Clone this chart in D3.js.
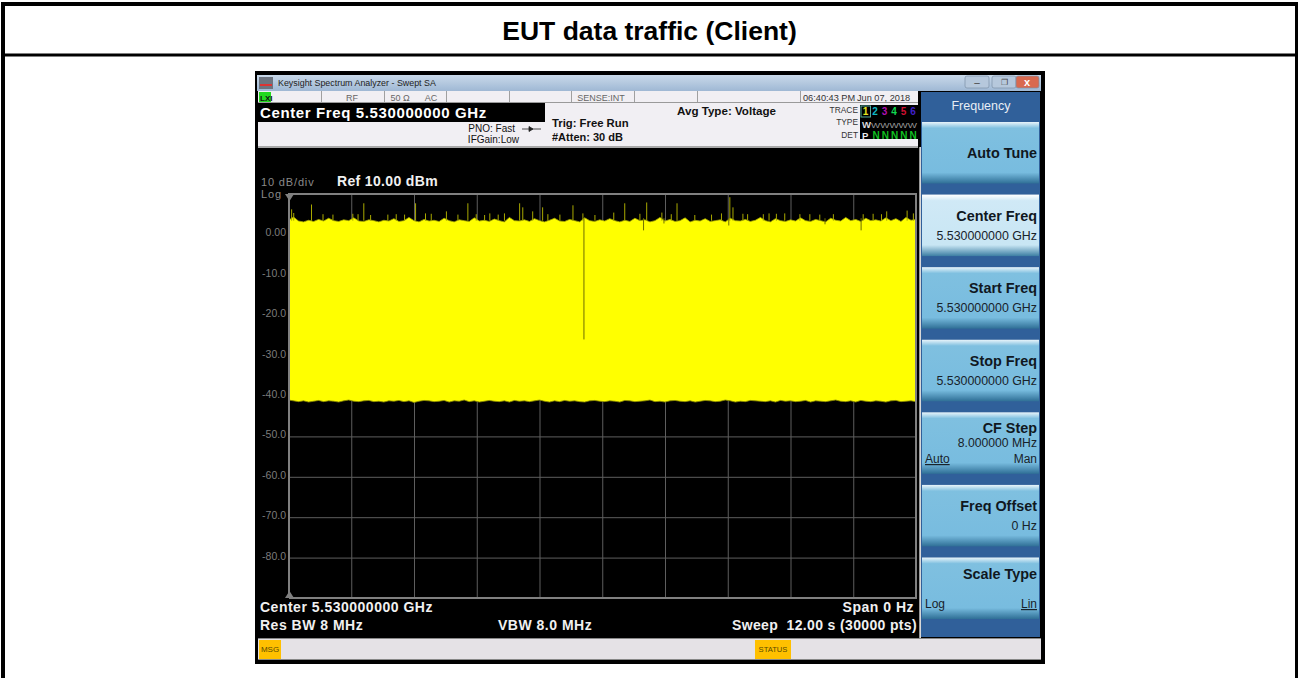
<!DOCTYPE html>
<html>
<head>
<meta charset="utf-8">
<script src="https://cdn.jsdelivr.net/npm/d3@7/dist/d3.min.js"></script>
<style>
  html, body { margin: 0; padding: 0; background: #fff; overflow: hidden; }
  text { font-family: "Liberation Sans", Arial, sans-serif; white-space: pre; }
</style>
</head>
<body>
<div id="chart"></div>
<script>
// Trace values (dBm), evenly spread across the 12 s sweep
const traceTop = [
  3.5,4.3,3.3,3.1,3.5,3.2,3.7,3.3,4.0,3.4,3.2,3.6,3.4,4.1,3.3,3.2,3.6,3.4,3.1,3.5,
  3.3,3.9,3.2,3.4,4.2,3.4,3.1,3.7,3.3,3.5,3.2,4.0,3.4,3.1,3.6,3.4,3.2,4.1,3.3,3.5,
  3.2,3.8,3.4,3.1,4.2,3.4,3.3,3.6,3.2,3.9,3.4,3.1,3.5,4.0,3.3,3.2,3.7,3.4,3.1,4.1,
  3.4,3.2,3.6,3.3,3.9,3.4,3.1,3.5,3.2,4.0,3.4,3.6,3.1,3.4,4.2,3.3,3.7,3.2,3.4,4.1,
  3.1,3.5,3.3,3.9,3.2,3.4,3.6,3.1,4.0,3.4,3.3,3.7,3.2,3.5,4.2,3.4,3.1,3.9,3.4,3.2,
  3.6,3.3,4.1,3.4,3.2,3.7,3.4,3.1,4.0,3.5,3.3,4.2,3.4,3.7,3.2,4.0,3.4,3.6,3.3,4.1,
  3.4,3.9,3.2,4.2,3.5,3.7
];
const traceBottom = [
  -41.0,-41.2,-41.4,-41.2,-41.5,-41.3,-41.1,-41.4,-41.2,-41.3,-41.5,-41.2,-41.0,-41.3,-41.4,-41.2,-41.1,-41.4,-41.3,-41.5,
  -41.2,-41.3,-41.1,-41.4,-41.2,-41.6,-41.3,-41.1,-41.2,-41.4,-41.3,-41.1,-41.5,-41.2,-41.3,-41.0,-41.4,-41.2,-41.5,-41.3,
  -41.1,-41.3,-41.4,-41.2,-41.5,-41.1,-41.3,-41.2,-41.4,-41.2,-41.0,-41.3,-41.5,-41.2,-41.4,-41.1,-41.3,-41.2,-41.4,-41.5,
  -41.2,-41.1,-41.3,-41.4,-41.2,-41.3,-41.5,-41.1,-41.2,-41.4,-41.3,-41.2,-41.0,-41.4,-41.3,-41.5,-41.2,-41.1,-41.3,-41.4,
  -41.2,-41.5,-41.3,-41.1,-41.2,-41.4,-41.3,-41.0,-41.2,-41.5,-41.3,-41.4,-41.1,-41.2,-41.3,-41.4,-41.2,-41.5,-41.1,-41.3,
  -41.2,-41.4,-41.3,-41.1,-41.5,-41.2,-41.3,-41.4,-41.2,-41.0,-41.3,-41.4,-41.2,-41.5,-41.1,-41.3,-41.4,-41.2,-41.3,-41.5,
  -41.2,-41.1,-41.4,-41.3,-41.2,-41.4
];
// Upward spikes [seconds, dBm]
const spikes = [
  [0.06,6.2],[0.10,5.3],[0.44,7.4],[1.44,7.7],[2.43,7.7],[2.62,5.2],[3.02,5.7],[3.43,7.7],[3.85,5.2],[4.13,5.2],
  [4.42,7.7],[4.48,6.7],[4.67,5.7],[4.86,6.7],[5.44,7.2],[5.63,5.2],[6.22,5.4],[6.43,7.7],[6.85,7.9],[7.14,5.4],
  [7.43,7.7],[8.44,9.2],[8.50,6.7],[8.78,5.0],[9.19,5.2],[9.49,5.2],[9.97,5.0],[11.44,5.7],[11.83,5.9]
];
// Smaller teeth along the top edge [seconds, dBm]
const teeth = [
  [0.66,5.0],[0.85,4.9],[1.23,5.1],[1.33,5.0],[1.57,4.8],[1.90,4.9],[2.06,5.0],[2.22,4.9],[2.73,5.1],[3.24,4.9],
  [3.59,5.0],[3.75,4.8],[4.01,4.9],[4.96,5.0],[5.19,4.9],[5.86,4.8],[6.72,5.1],[7.32,5.0],[7.77,4.8],[8.09,4.9],
  [8.28,5.2],[8.69,5.1],[9.08,5.0],[9.33,5.1],[9.78,5.0],[10.16,4.9],[10.42,5.0],[10.99,5.0],[11.18,5.1],[11.34,5.0],
  [11.95,5.2]
];
// Downward dips [seconds, dBm]
const dips = [[5.65,-26],[6.79,1.0],[7.18,2.7],[8.42,2.2],[10.26,2.5],[10.95,1.0]];

const dbTicks = [0,-10,-20,-30,-40,-50,-60,-70,-80];
const timeTicks = [1.2,2.4,3.6,4.8,6,7.2,8.4,9.6,10.8];
const softKeys = [
  { title: "Auto Tune", sub: "" },
  { title: "Center Freq", sub: "5.530000000 GHz", active: true },
  { title: "Start Freq", sub: "5.530000000 GHz" },
  { title: "Stop Freq", sub: "5.530000000 GHz" },
  { title: "CF Step", sub: "8.000000 MHz" },
  { title: "Freq Offset", sub: "0 Hz" },
  { title: "Scale Type", sub: "" }
];

const svg = d3.select("#chart").append("svg")
  .attr("width", 1298).attr("height", 678)
  .style("display", "block");

const defs = svg.append("defs");
function gradient(id, stops) {
  const g = defs.append("linearGradient").attr("id", id)
    .attr("x1", 0).attr("x2", 0).attr("y1", 0).attr("y2", 1);
  stops.forEach(s => g.append("stop").attr("offset", s[0]).attr("stop-color", s[1]));
}
gradient("titleBar", [[0, "#c9d9ea"], [1, "#9fb8d4"]]);
gradient("keyNormal", [[0, "#e8f4fa"], [0.1, "#7fc0e0"], [0.82, "#78bcdf"], [1, "#2f6f96"]]);
gradient("keyActive", [[0, "#ffffff"], [0.1, "#d0e9f6"], [0.82, "#c8e6f4"], [1, "#3d7fa3"]]);

function label(x, y, str, size, opts = {}) {
  return svg.append("text")
    .attr("x", x).attr("y", y)
    .attr("text-anchor", opts.anchor || "start")
    .attr("font-size", size)
    .attr("font-weight", opts.bold ? "bold" : "normal")
    .attr("fill", opts.fill || "#000")
    .attr("letter-spacing", opts.spacing || null)
    .attr("text-decoration", opts.under ? "underline" : null)
    .text(str);
}
function box(x, y, w, h, fill) {
  return svg.append("rect").attr("x", x).attr("y", y).attr("width", w).attr("height", h).attr("fill", fill);
}

// Report table around the screenshot
box(1, 2, 4, 676, "#000");
box(1295, 2, 3, 676, "#000");
box(1, 2, 1297, 4, "#000");
box(1, 53.5, 1297, 3, "#000");
label(649.5, 40, "EUT data traffic (Client)", 26.5, { anchor: "middle", bold: true });

// Analyzer window
box(255, 71, 790, 593, "#000");
box(257, 75, 784, 16, "url(#titleBar)");
box(259, 77, 14, 12, "#6d7480");
box(260, 84, 12, 2, "#d33");
label(278, 86, "Keysight Spectrum Analyzer - Swept SA", 8.9, { fill: "#222" });
[[965, "#b6c8dc"], [992, "#b6c8dc"], [1016, "#d9694f"]].forEach(b => {
  box(b[0], 76, b[0] === 1016 ? 23 : 24, 12, b[1]).attr("rx", 2).attr("stroke", "#7d90a6").attr("stroke-width", 0.7);
});
label(977, 86, "–", 10, { anchor: "middle", fill: "#444" });
label(1004, 85, "❐", 8, { anchor: "middle", fill: "#444" });
label(1027, 86, "x", 11, { anchor: "middle", bold: true, fill: "#fff" });

// Status row and settings panel
box(258, 91, 660, 56, "#f1eff3");
box(258, 102, 660, 1, "#9a9a9a");
box(258, 146, 660, 2, "#a8a8a8");
box(259, 92, 12, 10, "#22d81e");
label(260, 101, "LXI", 8, { bold: true, fill: "#111" });
[321, 384, 446, 509, 571, 634, 697, 800].forEach(x => box(x, 91, 1, 11, "#a0a0a0"));
label(352, 101, "RF", 9, { anchor: "middle", fill: "#666" });
label(400, 101, "50 Ω", 9, { anchor: "middle", fill: "#666" });
label(431, 101, "AC", 9, { anchor: "middle", fill: "#666" });
label(601, 101, "SENSE:INT", 9, { anchor: "middle", fill: "#666" });
label(803, 101, "06:40:43 PM", 9.2, { fill: "#333" });
label(857, 101, "Jun 07, 2018", 9.2, { fill: "#333" });

box(258, 103, 287, 19, "#000");
label(260, 118, "Center Freq 5.530000000 GHz", 15, { bold: true, fill: "#fff", spacing: 0.62 });
label(515, 132, "PNO: Fast", 10, { anchor: "end", fill: "#111" });
label(519, 143, "IFGain:Low", 10, { anchor: "end", fill: "#111" });
svg.append("path").attr("d", "M522 129H541M529 126.5L533 129L529 131.5Z").attr("stroke", "#222").attr("fill", "#222").attr("stroke-width", 0.8);
label(552, 127, "Trig: Free Run", 11.3, { bold: true, fill: "#111" });
label(552, 141, "#Atten: 30 dB", 11, { bold: true, fill: "#111" });
label(677, 115, "Avg Type: Voltage", 11.6, { bold: true, fill: "#111" });
label(858, 113, "TRACE", 8.4, { anchor: "end", fill: "#333" });
label(858, 125, "TYPE", 8.4, { anchor: "end", fill: "#333" });
label(858, 138, "DET", 8.4, { anchor: "end", fill: "#333" });
box(860, 105, 58, 34, "#000");
box(861, 106, 9.5, 11, "none").attr("stroke", "#5a9").attr("stroke-width", 1);
["#e6e620", "#10b8c8", "#b010b0", "#10d850", "#d01030", "#4020c8"].forEach((c, i) => {
  label(865.5 + i * 9.5, 115, String(i + 1), 10, { anchor: "middle", bold: true, fill: c });
});
label(862, 128, "W", 9.5, { bold: true, fill: "#ddd" });
label(871, 128, "WWWWW", 8, { fill: "#999" }).attr("textLength", 46).attr("lengthAdjust", "spacingAndGlyphs");
label(862, 139, "P", 9.5, { bold: true, fill: "#eee" });
["N", "N", "N", "N", "N"].forEach((n, i) => {
  label(876 + i * 9.3, 139, n, 10, { anchor: "middle", bold: true, fill: "#10c020" });
});

// Plot
const margin = { top: 194, right: 382, bottom: 80, left: 288.5 };
const width = 1298 - margin.left - margin.right;
const height = 678 - margin.top - margin.bottom;

const x = d3.scaleLinear().domain([0, 12]).range([0, width]);
const y = d3.scaleLinear().domain([10, -90]).range([0, height]);

label(261, 185.5, "10 dB/div", 11, { fill: "#8a8a8a", spacing: 0.85 });
label(261, 197.5, "Log", 11, { fill: "#8a8a8a", spacing: 0.85 });
label(337, 186, "Ref 10.00 dBm", 14, { bold: true, fill: "#f0f0f0", spacing: 0.35 });

const plot = svg.append("g").attr("transform", `translate(${margin.left},${margin.top})`);

const yAxis = d3.axisLeft(y).tickValues(dbTicks)
  .tickSize(-width).tickPadding(2.5)
  .tickFormat(d => d === 0 ? "0.00" : d.toFixed(1));
const xAxis = d3.axisBottom(x).tickValues(timeTicks).tickSize(-height).tickFormat("");

const gy = plot.append("g").call(yAxis);
const gx = plot.append("g").attr("transform", `translate(0,${height})`).call(xAxis);
gy.select(".domain").remove();
gx.select(".domain").remove();
plot.selectAll(".tick line").attr("stroke", "#5e5e5e").attr("stroke-width", 1);
gy.selectAll("text")
  .attr("font-family", "Liberation Sans")
  .attr("font-size", 10.5)
  .attr("fill", "#7c7c7c")
  .attr("dy", "0.15em");

// Trace
const sweepTime = i => i * 12 / (traceTop.length - 1);
const area = d3.area()
  .x((d, i) => x(sweepTime(i)))
  .y0((d, i) => y(traceBottom[i]))
  .y1(d => y(d));
const edgeLine = d3.line().x((d, i) => x(sweepTime(i))).y(d => y(d));

plot.append("path").datum(traceTop).attr("d", area).attr("fill", "#ffff00");
plot.append("path").datum(traceTop).attr("d", edgeLine).attr("fill", "none").attr("stroke", "#a8a800").attr("stroke-width", 0.8);
plot.append("path").datum(traceBottom).attr("d", edgeLine).attr("fill", "none").attr("stroke", "#8a8a00").attr("stroke-width", 0.8);

plot.selectAll("line.spike").data(spikes.concat(teeth)).join("line")
  .attr("class", "spike")
  .attr("x1", d => x(d[0])).attr("x2", d => x(d[0]))
  .attr("y1", y(3.4)).attr("y2", d => y(d[1]))
  .attr("stroke", "#a8a800").attr("stroke-width", 1);
plot.selectAll("line.dip").data(dips).join("line")
  .attr("class", "dip")
  .attr("x1", d => x(d[0])).attr("x2", d => x(d[0]))
  .attr("y1", y(4)).attr("y2", d => y(d[1]))
  .attr("stroke", "#6e6e00").attr("stroke-width", 1);

// Plot frame
const frame = plot.append("g").attr("fill", "none").attr("stroke", "#808080").attr("stroke-width", 2);
frame.append("path").attr("d", `M0.5,${height}V0H${width}V${height}H0.5`);
svg.append("path").attr("d", "M285 194H294L289.5 201Z").attr("fill", "#808080");
svg.append("path").attr("d", "M285 598H294L289.5 591Z").attr("fill", "#808080");

// Footer readouts
const readout = { bold: true, fill: "#f0f0f0", spacing: 0.5 };
label(260, 612, "Center 5.530000000 GHz", 14, readout);
label(260, 630, "Res BW 8 MHz", 14, readout);
label(498, 630, "VBW 8.0 MHz", 14, readout);
label(914, 612, "Span 0 Hz", 14, { ...readout, anchor: "end" });
label(917, 630, "Sweep  12.00 s (30000 pts)", 14, { ...readout, anchor: "end", spacing: 0.35 });

// Message bar
box(258, 639, 783, 21, "#e5e2e6");
box(258, 638, 783, 1, "#888");
box(258, 659, 783, 1, "#888");
box(259, 640, 22, 19, "#ffc000");
box(755, 640, 36, 19, "#ffc000");
label(270, 652, "MSG", 8, { anchor: "middle", fill: "#5a4a00" });
label(773, 652, "STATUS", 7.6, { anchor: "middle", fill: "#5a4a00" });

// Softkeys
box(919.3, 147, 1.7, 491, "#d8d8d8");
box(921, 92, 119, 545, "#30609a");
label(981, 110, "Frequency", 12.5, { anchor: "middle", fill: "#e8eef5" });
const keyY = d3.scaleLinear().domain([0, softKeys.length - 1]).range([122, 557.5]);
softKeys.forEach((k, i) => {
  const top = keyY(i);
  box(922, top, 117, 61.5, k.active ? "url(#keyActive)" : "url(#keyNormal)");
  const titleY = i === 0 ? top + 36 : top + (i === 4 || i === 6 ? 21 : 26);
  label(1037, titleY, k.title, 14.4, { anchor: "end", bold: true, fill: "#10181f" });
  if (k.sub !== "") label(1037, top + (i === 4 ? 35 : 45), k.sub, i === 4 ? 12.2 : 12.4, { anchor: "end", fill: "#18222a" });
});
label(925, 463, "Auto", 12, { fill: "#18222a", under: true });
label(1037, 463, "Man", 12, { anchor: "end", fill: "#18222a" });
label(925, 608, "Log", 12, { fill: "#18222a" });
label(1037, 608, "Lin", 12, { anchor: "end", fill: "#18222a", under: true });
</script>
</body>
</html>
